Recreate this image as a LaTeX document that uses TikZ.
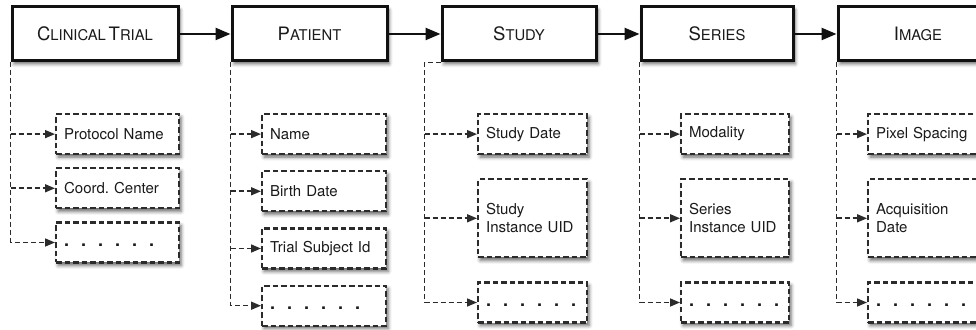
\documentclass[tikz,border=0pt]{standalone}
\usepackage{fontspec}
\setmainfont{TeX Gyre Heros}
\usetikzlibrary{arrows.meta,positioning,shadows.blur}
\definecolor{boxblack}{HTML}{111111}
\definecolor{attrgray}{HTML}{2B2B2B}
\definecolor{textgray}{HTML}{1A1A1A}
\newcommand{\capword}[2]{{\fontsize{18.5}{20}\selectfont #1}{\fontsize{14.8}{16}\selectfont #2}}
\newcommand{\bigdot}{\textbf{\fontsize{18}{18}\selectfont .}}
\newcommand{\dotrow}{\raisebox{-8pt}{\bigdot\hspace{12pt}\bigdot\hspace{12pt}\bigdot\hspace{12pt}\bigdot\hspace{12pt}\bigdot\hspace{12pt}\bigdot}}
\tikzset{
  softshadow/.style={blur shadow={shadow xshift=2pt,shadow yshift=-3pt,shadow blur radius=3.5pt,shadow opacity=60}},
  entity/.style={draw=boxblack,line width=3pt,fill=white,minimum height=54pt,text=textgray,inner sep=0pt,softshadow},
  attrbox/.style={draw=attrgray,line width=2.2pt,dash pattern=on 5.5pt off 3pt,fill=white,align=left,inner xsep=8pt,inner ysep=0pt,text width=#1,minimum height=40pt,font=\fontsize{15}{18}\selectfont,text=textgray,softshadow},
  tallbox/.style={attrbox=#1,minimum height=78pt},
  link/.style={-{Triangle[length=15pt,width=12pt]},line width=2.4pt,draw=boxblack},
  trunk/.style={line width=1.6pt,draw=attrgray,dash pattern=on 5pt off 3pt},
  attrflow/.style={trunk,-{Triangle[length=10pt,width=8pt]}}
}

\begin{document}
\begin{tikzpicture}[x=1pt,y=1pt]
  \useasboundingbox (0,0) rectangle (976,329);
  \clip (0,0) rectangle (976,329);

  % entity chain
  \node[entity,minimum width=166pt] (trial) at (95,295) {\capword{C}{LINICAL} \capword{T}{RIAL}};
  \node[entity,minimum width=155pt,right=51pt of trial] (patient) {\capword{P}{ATIENT}};
  \node[entity,minimum width=154pt,right=52pt of patient] (study) {\capword{S}{TUDY}};
  \node[entity,minimum width=152pt,right=42pt of study] (series) {\capword{S}{ERIES}};
  \node[entity,minimum width=160pt,right=42pt of series] (image) {\capword{I}{MAGE}};
  \draw[link] (trial) -- (patient);
  \draw[link] (patient) -- (study);
  \draw[link] (study) -- (series);
  \draw[link] (series) -- (image);

  % clinical trial attributes
  \node[attrbox=107pt,anchor=north west] (protocol) at (55,216) {Protocol Name};
  \node[attrbox=107pt,below=12pt of protocol] (coord) {Coord.\ Center};
  \node[attrbox=107pt,below=12pt of coord] (trialmore) {\dotrow};
  \draw[attrflow] (trial.south west) |- (trialmore.west);
  \draw[attrflow] (trial.south west |- protocol.west) -- (protocol.west);
  \draw[attrflow] (trial.south west |- coord.west) -- (coord.west);

  % patient attributes
  \node[attrbox=108pt,anchor=north west] (name) at (261,216) {Name};
  \node[attrbox=108pt,below=15pt of name] (birth) {Birth Date};
  \node[attrbox=108pt,below=15pt of birth] (subject) {Trial Subject Id};
  \node[attrbox=108pt,below=15pt of subject] (patientmore) {\dotrow};
  \draw[attrflow] (patient.south west) |- (patientmore.west);
  \draw[attrflow] (patient.south west |- name.west) -- (name.west);
  \draw[attrflow] (patient.south west |- birth.west) -- (birth.west);
  \draw[attrflow] (patient.south west |- subject.west) -- (subject.west);

  % study attributes
  \node[attrbox=93pt,anchor=north west] (studydate) at (477,216) {Study Date};
  \node[tallbox=93pt,below=23pt of studydate] (studyuid) {Study\\Instance UID};
  \node[attrbox=93pt,below=23pt of studyuid] (studymore) {\dotrow};
  \coordinate (studyknee) at ([xshift=-16pt]study.south west);
  \draw[trunk] (study.south west) -- (studyknee);
  \draw[attrflow] (studyknee) |- (studymore.west);
  \draw[attrflow] (studyknee |- studydate.west) -- (studydate.west);
  \draw[attrflow] (studyknee |- studyuid.west) -- (studyuid.west);

  % series attributes
  \node[attrbox=92pt,anchor=north west] (modality) at (680,216) {Modality};
  \node[tallbox=92pt,below=23pt of modality] (seriesuid) {Series\\Instance UID};
  \node[attrbox=92pt,below=23pt of seriesuid] (seriesmore) {\dotrow};
  \draw[attrflow] (series.south west) |- (seriesmore.west);
  \draw[attrflow] (series.south west |- modality.west) -- (modality.west);
  \draw[attrflow] (series.south west |- seriesuid.west) -- (seriesuid.west);

  % image attributes
  \node[attrbox=110pt,anchor=north west] (spacing) at (867,216) {Pixel Spacing};
  \node[tallbox=110pt,below=23pt of spacing] (acquisition) {Acquisition\\Date};
  \node[attrbox=110pt,below=23pt of acquisition] (imagemore) {\dotrow};
  \draw[attrflow] (image.south west) |- (imagemore.west);
  \draw[attrflow] (image.south west |- spacing.west) -- (spacing.west);
  \draw[attrflow] (image.south west |- acquisition.west) -- (acquisition.west);
\end{tikzpicture}
\end{document}
